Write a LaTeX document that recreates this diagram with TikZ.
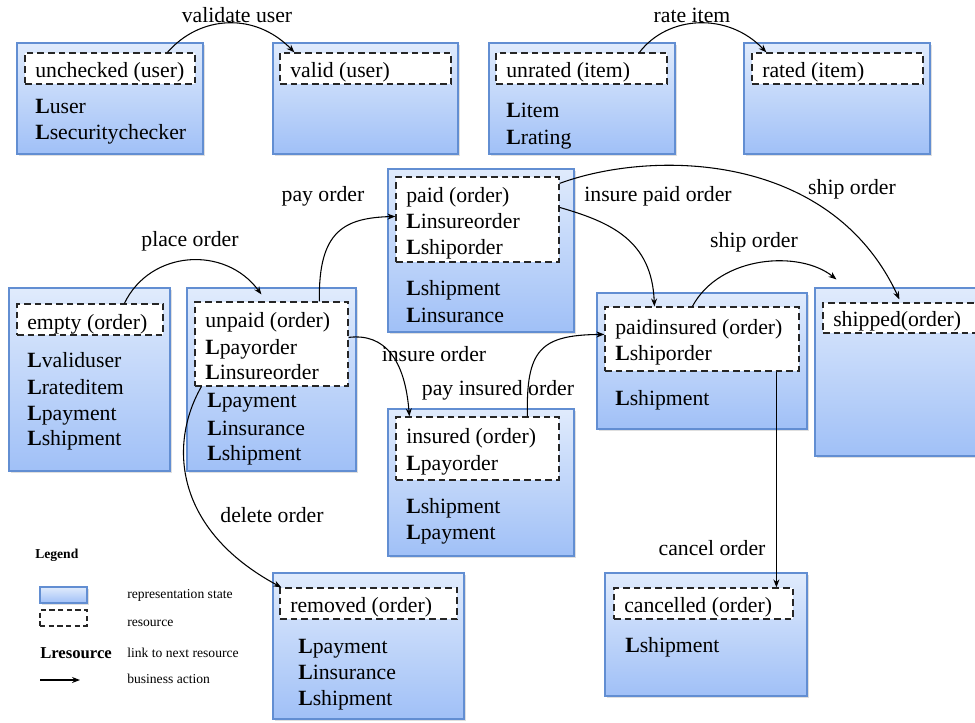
\documentclass[tikz,border=0pt]{standalone}
\usepackage{fontspec}
\setmainfont{Liberation Serif}
\usetikzlibrary{fit,calc,shadows,arrows.meta}

\definecolor{boxtop}{RGB}{224,235,252}
\definecolor{boxbot}{RGB}{160,192,247}
\definecolor{boxline}{RGB}{98,142,210}

\tikzset{
  statebox/.style={draw=boxline, line width=0.8pt, top color=boxtop, bottom color=boxbot,
    inner sep=0pt, drop shadow={shadow xshift=1.2pt, shadow yshift=-1.2pt, opacity=0.25}},
  resbox/.style={draw=black!85, line width=0.9pt, dash pattern=on 5pt off 3pt,
    fill=white, inner sep=0pt},
  txt/.style={anchor=base west, inner sep=0pt, font=\fontsize{16.3}{19.5}\selectfont},
  lbl/.style={inner sep=0pt, font=\fontsize{16.3}{19.5}\selectfont},
  small/.style={anchor=base west, inner sep=0pt, font=\fontsize{10.2}{12}\selectfont},
  act/.style={-{Stealth[length=6pt,width=4.5pt]}, line width=0.8pt, black},
}

\begin{document}
\begin{tikzpicture}[x=0.75pt, y=-0.75pt]
\clip (0,0) rectangle (975,722);

% ---------------- user ----------------
\node[statebox, fit={(17,43) (203,154)}] (s1) {};
\node[resbox, fit={(25,53) (195,84)}] (r1) {};
\node[txt] (t1a) at (35,77) {unchecked (user)};
\node[txt] (t1b) at (35,113) {\textbf{L}user};
\node[txt] (t1c) at (35,139) {\textbf{L}securitychecker};

\node[statebox, fit={(273,43) (458,154)}] (s2) {};
\node[resbox, fit={(280,53) (451,84)}] (r2) {};
\node[txt] (t2a) at (290,77) {valid (user)};

% ---------------- item ----------------
\node[statebox, fit={(489,43) (675,154)}] (s3) {};
\node[resbox, fit={(496,53) (667,84)}] (r3) {};
\node[txt] (t3a) at (506,77) {unrated (item)};
\node[txt] (t3b) at (506,117) {\textbf{L}item};
\node[txt] (t3c) at (506,144) {\textbf{L}rating};

\node[statebox, fit={(744,43) (930,154)}] (s4) {};
\node[resbox, fit={(752,53) (923,84)}] (r4) {};
\node[txt] (t4a) at (762,77) {rated (item)};

% ---------------- order ----------------
\node[statebox, fit={(9,288) (170,471)}] (s5) {};
\node[resbox, fit={(17,304) (163,335)}] (r5) {};
\node[txt] (t5a) at (27,329) {empty (order)};
\node[txt] (t5b) at (27,367) {\textbf{L}validuser};
\node[txt] (t5c) at (27,394) {\textbf{L}rateditem};
\node[txt] (t5d) at (27,420) {\textbf{L}payment};
\node[txt] (t5e) at (27,445) {\textbf{L}shipment};

\node[statebox, fit={(187,288) (356,471)}] (s6) {};
\node[resbox, fit={(195,302) (348,386)}] (r6) {};
\node[txt] (t6a) at (205,327) {unpaid (order)};
\node[txt] (t6b) at (205,354) {\textbf{L}payorder};
\node[txt] (t6c) at (205,379) {\textbf{L}insureorder};
\node[txt] (t6d) at (207,407) {\textbf{L}payment};
\node[txt] (t6e) at (207,435) {\textbf{L}insurance};
\node[txt] (t6f) at (207,460) {\textbf{L}shipment};

\node[statebox, fit={(388,169) (574,332)}] (s7) {};
\node[resbox, fit={(396,177) (559,262)}] (r7) {};
\node[txt] (t7a) at (406,202) {paid (order)};
\node[txt] (t7b) at (406,228) {\textbf{L}insureorder};
\node[txt] (t7c) at (406,254) {\textbf{L}shiporder};
\node[txt] (t7d) at (406,295) {\textbf{L}shipment};
\node[txt] (t7e) at (406,322) {\textbf{L}insurance};

\node[statebox, fit={(388,409) (574,556)}] (s8) {};
\node[resbox, fit={(396,417) (559,480)}] (r8) {};
\node[txt] (t8a) at (406,443) {insured (order)};
\node[txt] (t8b) at (406,470) {\textbf{L}payorder};
\node[txt] (t8c) at (406,513) {\textbf{L}shipment};
\node[txt] (t8d) at (406,539) {\textbf{L}payment};

\node[statebox, fit={(597,293) (807,429)}] (s9) {};
\node[resbox, fit={(605,307) (799,371)}] (r9) {};
\node[txt] (t9a) at (615,334) {paidinsured (order)};
\node[txt] (t9b) at (615,360) {\textbf{L}shiporder};
\node[txt] (t9c) at (615,405) {\textbf{L}shipment};

\node[statebox, fit={(815,288) (995,456)}] (s10) {};
\node[resbox, fit={(823,303) (990,333)}] (r10) {};
\node[txt] (t10a) at (833,326) {shipped(order)};

\node[statebox, fit={(273,573) (464,719)}] (s11) {};
\node[resbox, fit={(280,588) (457,619)}] (r11) {};
\node[txt] (t11a) at (290,612) {removed (order)};
\node[txt] (t11b) at (298,653) {\textbf{L}payment};
\node[txt] (t11c) at (298,679) {\textbf{L}insurance};
\node[txt] (t11d) at (298,705) {\textbf{L}shipment};

\node[statebox, fit={(605,573) (807,696)}] (s12) {};
\node[resbox, fit={(614,588) (793,619)}] (r12) {};
\node[txt] (t12a) at (624,612) {cancelled (order)};
\node[txt] (t12b) at (625,652) {\textbf{L}shipment};

% ---------------- business actions ----------------
\draw[act] ($(r1.north west)+(143,0)$) .. controls (200,15) and (255,12) .. ($(r2.north west)+(15,0)$);
\node[lbl] (a1) at (237,15) {validate user};

\draw[act] ($(r3.north west)+(144,0)$) .. controls (668,15) and (728,12) .. ($(r4.north west)+(15,0)$);
\node[lbl] (a2) at (692,15) {rate item};

\draw[act] ($(r5.north west)+(108,0)$) .. controls (150,250) and (225,245) .. ($(r6.north west)+(67,-7)$);
\node[lbl] (a3) at (190,241) {place order};

\draw[act] ($(r6.north west)+(125,0)$) .. controls (318,230) and (345,218) .. ($(r7.north west)+(0,40)$);
\node[lbl] (a4) at (323,196) {pay order};

\draw[act] ($(r6.north east)+(0,36)$) .. controls (385,333) and (405,360) .. ($(r8.north west)+(14,0)$);
\node[lbl] (a5) at (434,354) {insure order};

\node[lbl] (a6) at (498,390) {pay insured order};
\draw[act] ($(r8.north west)+(132,0)$) .. controls (526,350) and (540,335) .. ($(r9.north west)+(0,28)$);

\draw[act] ($(r7.north east)+(0,31)$) .. controls (610,222) and (652,240) .. ($(r9.north west)+(50,0)$);
\node[lbl] (a7) at (658,196) {insure paid order};

\draw[act] ($(r7.north east)+(0,7)$) .. controls (650,150) and (830,150) .. ($(r10.north west)+(77,-3)$);
\node[lbl] (a8) at (852,189) {ship order};

\draw[act] ($(r9.north west)+(88,0)$) .. controls (720,255) and (800,250) .. ($(s10.north west)+(22,-8)$);
\node[lbl] (a9) at (754,242) {ship order};

\draw[act] ($(r6.south west)+(7,0)$) .. controls (168,445) and (175,530) .. ($(r11.north west)+(2,0)$);
\node[lbl] (a10) at (272,515) {delete order};

\draw[act] ($(r9.south west)+(172,0)$) -- ($(r12.north west)+(163,0)$);
\node[lbl] (a11) at (712,548) {cancel order};

% ---------------- legend ----------------
\node[anchor=base west, inner sep=0pt, font=\fontsize{10.2}{12}\selectfont\bfseries] (lgt) at (35,558) {Legend};
\node[statebox, fit={(40,587) (87,603)}] (lg1) {};
\node[resbox, fill=none, line width=0.8pt, dash pattern=on 4pt off 2.5pt, fit={(40,610) (87,626)}] (lg2) {};
\node[anchor=base west, inner sep=0pt, font=\fontsize{12.5}{14}\selectfont\bfseries] (lg3) at (40,658) {Lresource};
\coordinate (la) at (40,680);
\coordinate (lb) at (80,680);
\draw[act] (la) -- (lb);
\node[small] (lt1) at (127,598) {representation state};
\node[small] (lt2) at (127,626) {resource};
\node[small] (lt3) at (127,657) {link to next resource};
\node[small] (lt4) at (127,683) {business action};

\end{tikzpicture}
\end{document}
